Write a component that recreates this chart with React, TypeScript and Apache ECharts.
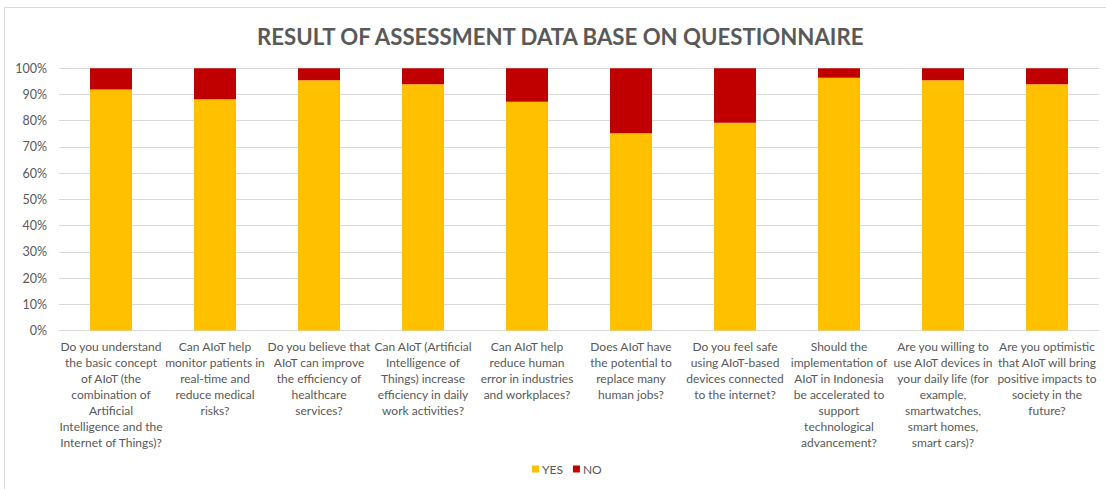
import React, { useEffect, useRef } from "react";
import * as echarts from "echarts";

const TITLE = "RESULT OF ASSESSMENT DATA BASE ON QUESTIONNAIRE";

const categories: string[] = [
  "Do you understand\nthe basic concept\nof AIoT (the\ncombination of\nArtificial\nIntelligence and the\nInternet of Things)?",
  "Can AIoT help\nmonitor patients in\nreal-time and\nreduce medical\nrisks?",
  "Do you believe that\nAIoT can improve\nthe efficiency of\nhealthcare\nservices?",
  "Can AIoT (Artificial\nIntelligence of\nThings) increase\nefficiency in daily\nwork activities?",
  "Can AIoT help\nreduce human\nerror in industries\nand workplaces?",
  "Does AIoT have\nthe potential to\nreplace many\nhuman jobs?",
  "Do you feel safe\nusing AIoT-based\ndevices connected\nto the internet?",
  "Should the\nimplementation of\nAIoT in Indonesia\nbe accelerated to\nsupport\ntechnological\nadvancement?",
  "Are you willing to\nuse AIoT devices in\nyour daily life (for\nexample,\nsmartwatches,\nsmart homes,\nsmart cars)?",
  "Are you optimistic\nthat AIoT will bring\npositive impacts to\nsociety in the\nfuture?",
];

const yesValues: number[] = [91.9, 88.2, 95.4, 93.9, 87.2, 75.2, 79.2, 96.4, 95.4, 93.9];
const noValues: number[] = [8.1, 11.8, 4.6, 6.1, 12.8, 24.8, 20.8, 3.6, 4.6, 6.1];

const seriesNames = ["YES", "NO"];

export default function App() {
  const ref = useRef<HTMLDivElement>(null);
  useEffect(() => {
    if (!ref.current) return;
    const chart = echarts.init(ref.current, undefined, { renderer: "svg" });
    const font = "Lato, 'Open Sans', sans-serif";
    chart.setOption({
      animation: false,
      backgroundColor: "#ffffff",
      textStyle: { fontFamily: font },
      title: {
        text: TITLE,
        left: 252,
        top: 20,
        textStyle: {
          fontFamily: font,
          fontSize: 22.2,
          fontWeight: "bold",
          color: "#595959",
        },
      },
      graphic: [
        {
          type: "line",
          shape: { x1: 4.5, y1: 7.5, x2: 1106, y2: 7.5 },
          style: { stroke: "#D9D9D9", lineWidth: 1 },
          silent: true,
        },
        {
          type: "line",
          shape: { x1: 4.5, y1: 7.5, x2: 4.5, y2: 489 },
          style: { stroke: "#D9D9D9", lineWidth: 1 },
          silent: true,
        },
      ],
      legend: {
        data: seriesNames,
        bottom: 9,
        left: 527,
        itemWidth: 7,
        itemHeight: 7,
        itemGap: 10,
        icon: "rect",
        textStyle: { fontFamily: font, fontSize: 12, color: "#595959", padding: [0, 0, 0, -2] },
      },
      grid: {
        left: 59,
        right: 7,
        top: 68.3,
        bottom: 158.5,
        containLabel: false,
      },
      xAxis: {
        type: "category",
        data: categories,
        axisLine: { show: true, lineStyle: { color: "#D9D9D9" } },
        axisTick: { show: false },
        axisLabel: {
          interval: 0,
          margin: 8,
          fontFamily: font,
          fontSize: 12,
          lineHeight: 16,
          color: "#595959",
          align: "center",
        },
      },
      yAxis: {
        type: "value",
        min: 0,
        max: 100,
        interval: 10,
        axisLine: { show: false },
        axisTick: { show: false },
        splitLine: { lineStyle: { color: "#D9D9D9" } },
        axisLabel: {
          formatter: "{value}%",
          margin: 12,
          fontFamily: font,
          fontSize: 12.5,
          color: "#595959",
        },
      },
      series: [
        {
          name: seriesNames[0],
          type: "bar",
          stack: "total",
          data: yesValues,
          barWidth: 42,
          itemStyle: { color: "#FFC000" },
        },
        {
          name: seriesNames[1],
          type: "bar",
          stack: "total",
          data: noValues,
          barWidth: 42,
          itemStyle: { color: "#C00000" },
        },
      ],
    });
    return () => chart.dispose();
  }, []);
  return (
    <div
      ref={ref}
      style={{ position: "fixed", left: 0, top: 0, width: 1106, height: 489 }}
    />
  );
}
